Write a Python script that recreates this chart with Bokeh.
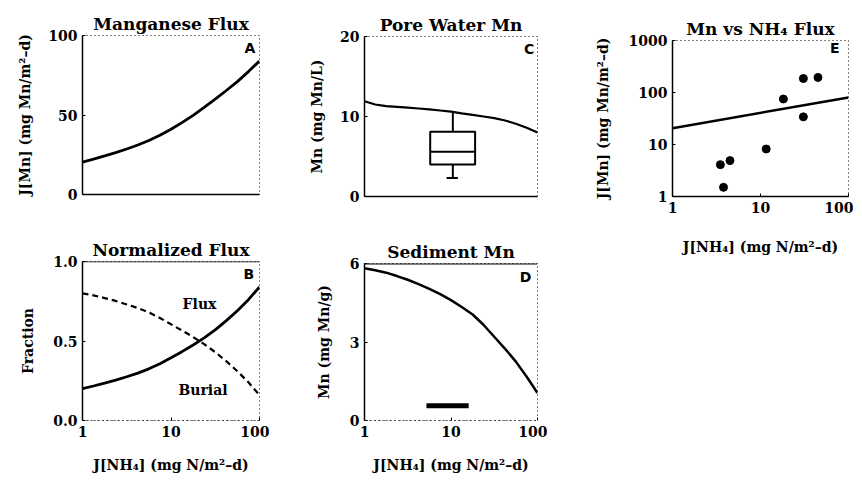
from bokeh.plotting import figure
from bokeh.layouts import row, column
from bokeh.models import Range1d, FixedTicker, NumeralTickFormatter, Label, Span
from bokeh.embed import file_html
from bokeh.resources import INLINE

# ---------------- data ----------------
jnh4 = [1, 1.33, 1.78, 2.37, 3.16, 4.22, 5.62, 7.5, 10, 13.3, 17.8, 23.7, 31.6, 42.2, 56.2, 75, 100]
mn_flux = [20.4, 22.3, 24.3, 26.3, 28.6, 31.1, 34, 37.3, 41, 45.2, 49.8, 54.8, 60, 65.4, 71, 77.3, 84]
flux_frac = [0.20, 0.217, 0.235, 0.254, 0.275, 0.298, 0.325, 0.357, 0.395, 0.433, 0.475, 0.52,
             0.57, 0.628, 0.69, 0.76, 0.84]
burial_frac = [0.80, 0.787, 0.77, 0.752, 0.73, 0.707, 0.68, 0.645, 0.605, 0.566, 0.525, 0.48,
               0.43, 0.373, 0.31, 0.24, 0.16]
pore_mn = [11.9, 11.5, 11.3, 11.2, 11.1, 11.0, 10.9, 10.75, 10.6, 10.4, 10.2, 10.0, 9.8, 9.5,
           9.1, 8.6, 8.0]
sed_mn = [5.82, 5.74, 5.65, 5.52, 5.38, 5.21, 5.03, 4.83, 4.6, 4.34, 4.05, 3.66, 3.2, 2.74,
          2.25, 1.67, 1.05]

# observed pore water box plot
pore_box_left = 5.75
pore_box_right = 19
pore_box_center = 10.5
pore_cap = [8.9, 12]
pore_whisker_lo = 2.3
pore_q1 = 4.0
pore_median = 5.6
pore_q3 = 8.1
pore_whisker_hi = 10.5

sed_initial = 6.0
sed_obs_range = [5.2, 16]
sed_obs_value = 0.56

obs_jnh4 = [3.5, 3.8, 4.5, 11.6, 18.2, 30.7, 30.7, 45]
obs_jmn = [4.1, 1.5, 4.9, 8.2, 75, 34, 186, 195]
fit_jnh4 = [1, 100]
fit_jmn = [20.6, 80.5]

SERIF = "DejaVu Serif"
SANS = "DejaVu Sans"


def make(title, w, h, l, r, t, b, xr, yr, ylog=False):
    p = figure(width=w, height=h, min_border_left=l, min_border_right=r,
               min_border_top=t, min_border_bottom=b,
               x_axis_type="log", y_axis_type="log" if ylog else "linear",
               x_range=Range1d(*xr), y_range=Range1d(*yr),
               output_backend="svg", toolbar_location=None, title=title)
    p.grid.visible = False
    p.outline_line_color = "black"
    p.outline_line_dash = "1 3"
    p.outline_line_width = 1
    p.background_fill_color = "white"
    p.border_fill_color = "white"
    p.title.text_font = SERIF
    p.title.text_font_style = "bold"
    p.title.text_font_size = "17px"
    p.title.text_color = "black"
    p.title.align = "center"
    p.title.standoff = 4
    for ax in p.axis:
        ax.axis_line_width = 1.5
        ax.axis_line_color = "black"
        ax.major_tick_in = 3
        ax.major_tick_out = 0
        ax.minor_tick_in = 0
        ax.minor_tick_out = 0
        ax.major_label_text_font = SERIF
        ax.major_label_text_font_style = "bold"
        ax.major_label_text_font_size = "14px"
        ax.major_label_text_color = "black"
        ax.major_label_standoff = 5
        ax.axis_label_text_font = SERIF
        ax.axis_label_text_font_style = "bold"
        ax.axis_label_text_font_size = "14px"
        ax.axis_label_text_color = "black"
    p.xaxis.ticker = FixedTicker(ticks=[1, 10, 100])
    p.xaxis.formatter = NumeralTickFormatter(format="0")
    return p


def letter(p, txt, x, y):
    p.add_layout(Label(x=x, y=y, text=txt, text_font=SANS, text_font_style="bold",
                       text_font_size="14px", text_color="black",
                       text_align="right", text_baseline="middle"))


def note(p, txt, x, y):
    p.add_layout(Label(x=x, y=y, text=txt, text_font=SERIF, text_font_style="bold",
                       text_font_size="14px", text_color="black",
                       text_align="center", text_baseline="middle"))


XLAB = "J[NH\u2084] (mg N/m\u00b2\u2013d)"
JMN = "J[Mn] (mg Mn/m\u00b2\u2013d)"

# ---- A ----
pa = make("Manganese Flux", 269, 224, 82, 10, 35, 30, (1, 100), (0, 100))
pa.line(jnh4, mn_flux, line_width=2.8, color="black")
pa.yaxis.ticker = FixedTicker(ticks=[0, 50, 100])
pa.yaxis.axis_label = JMN
pa.yaxis.axis_label_standoff = 12
pa.xaxis.ticker = FixedTicker(ticks=[])
letter(pa, "A", 90, 92)

# ---- B ----
pb = make("Normalized Flux", 269, 251, 82, 10, 37, 54, (1, 100), (0, 1))
pb.line(jnh4, flux_frac, line_width=2.8, color="black")
pb.line(jnh4, burial_frac, line_width=2.2, color="black", line_dash="6 4")
pb.add_layout(Span(location=1.0, dimension="width", line_color="black", line_width=1.5))
pb.yaxis.ticker = FixedTicker(ticks=[0, 0.5, 1.0])
pb.yaxis.formatter = NumeralTickFormatter(format="0.0")
pb.yaxis.axis_label = "Fraction"
pb.yaxis.axis_label_standoff = 14
pb.xaxis.axis_line_dash = "1 4"
pb.xaxis.axis_line_width = 1
pb.xaxis.axis_label = XLAB
pb.xaxis.axis_label_standoff = 17
note(pb, "Flux", 21, 0.73)
note(pb, "Burial", 23, 0.19)
letter(pb, "B", 87, 0.92)

# ---- C ----
pc = make("Pore Water Mn", 278, 224, 95, 10, 36, 28, (1, 100), (0, 20))
pc.line(jnh4, pore_mn, line_width=2.2, color="black")
pc.segment(x0=[pore_box_center, pore_box_center], y0=[pore_whisker_lo, pore_q3],
           x1=[pore_box_center, pore_box_center], y1=[pore_q1, pore_whisker_hi],
           line_width=2, color="black")
pc.segment(x0=[pore_cap[0]], y0=[pore_whisker_lo], x1=[pore_cap[1]], y1=[pore_whisker_lo],
           line_width=2, color="black")
pc.quad(left=[pore_box_left], right=[pore_box_right], bottom=[pore_q1], top=[pore_q3],
        fill_color="white", line_color="black", line_width=2)
pc.segment(x0=[pore_box_left], y0=[pore_median], x1=[pore_box_right], y1=[pore_median],
           line_width=2, color="black")
pc.yaxis.ticker = FixedTicker(ticks=[0, 10, 20])
pc.yaxis.axis_label = "Mn (mg Mn/L)"
pc.yaxis.axis_label_standoff = 12
pc.xaxis.ticker = FixedTicker(ticks=[])
letter(pc, "C", 92, 18.4)

# ---- D ----
pd_ = make("Sediment Mn", 278, 251, 95, 10, 39, 52, (1, 100), (0, 6))
pd_.line(jnh4, sed_mn, line_width=2.5, color="black")
pd_.add_layout(Span(location=sed_initial, dimension="width", line_color="black", line_width=2))
pd_.segment(x0=[sed_obs_range[0]], y0=[sed_obs_value], x1=[sed_obs_range[1]], y1=[sed_obs_value],
            line_width=5, color="black")
pd_.yaxis.ticker = FixedTicker(ticks=[0, 3, 6])
pd_.yaxis.axis_label = "Mn (mg Mn/g)"
pd_.yaxis.axis_label_standoff = 15
pd_.xaxis.axis_line_dash = "1 4"
pd_.xaxis.axis_line_width = 1
pd_.xaxis.axis_label = XLAB
pd_.xaxis.axis_label_standoff = 17
letter(pd_, "D", 85, 5.47)

# ---- E ----
pe = make("Mn vs NH\u2084 Flux", 306, 257, 125, 5, 40, 60, (1, 100), (1, 1000), ylog=True)
pe.line(fit_jnh4, fit_jmn, line_width=2.5, color="black")
pe.scatter(obs_jnh4, obs_jmn, size=8, color="black")
pe.yaxis.ticker = FixedTicker(ticks=[1, 10, 100, 1000])
pe.yaxis.formatter = NumeralTickFormatter(format="0")
pe.yaxis.axis_label = JMN
pe.yaxis.axis_label_standoff = 15
pe.xaxis.axis_label = XLAB
pe.xaxis.axis_label_standoff = 23
letter(pe, "E", 79, 708)

layout = row(column(pa, pb), column(pc, pd_), pe)
open("out.html", "w").write(file_html(layout, INLINE))
